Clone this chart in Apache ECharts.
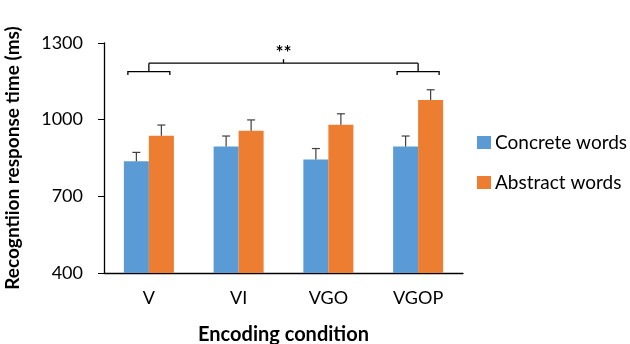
<!DOCTYPE html>
<html>
<head>
<meta charset="utf-8">
<script src="https://cdn.jsdelivr.net/npm/echarts@6/dist/echarts.min.js"></script>
<style>
html, body { margin: 0; padding: 0; background: #fff; }
#chart { width: 630px; height: 344px; }
</style>
</head>
<body>
<div id="chart"></div>
<script>
// data
var categories = ['V', 'VI', 'VGO', 'VGOP'];
var concrete = [837, 895, 844, 895];
var abstractW = [937, 957, 980, 1077];
var concreteErr = [35, 41, 43, 41];
var abstractErr = [42, 42, 43, 40];
// significance bracket: V group vs VGOP group
var bracketGroups = [0, 3];
var bracketTop = 1221;
var bracketMid = 1188;
var bracketTip = 1175;
var starsLabel = '**';

var BAR_W = 25;
var FONT = 'Lato, "Open Sans", sans-serif';

function errData(vals, errs) {
    var out = [];
    for (var i = 0; i < vals.length; i++) {
        out.push([i, vals[i], vals[i] + errs[i]]);
    }
    return out;
}

function errRender(offset) {
    return function(params, api) {
        var lo = api.coord([api.value(0), api.value(1)]);
        var hi = api.coord([api.value(0), api.value(2)]);
        var x = lo[0] + offset;
        var style = { stroke: '#404040', lineWidth: 1.2 };
        return {
            type: 'group',
            children: [
                { type: 'line', shape: { x1: x, y1: lo[1], x2: x, y2: hi[1] }, style: style },
                { type: 'line', shape: { x1: x - 4, y1: hi[1], x2: x + 4, y2: hi[1] }, style: style }
            ]
        };
    };
}

function bracketRender(params, api) {
    var style = { stroke: '#000', lineWidth: 1.3, fill: null };
    var children = [];
    var centers = [];
    for (var k = 0; k < bracketGroups.length; k++) {
        var c = api.coord([bracketGroups[k], bracketMid]);
        var tip = api.coord([bracketGroups[k], bracketTip]);
        var top = api.coord([bracketGroups[k], bracketTop]);
        var half = BAR_W - 4;
        centers.push([c[0], top[1]]);
        children.push({
            type: 'polyline',
            shape: { points: [[c[0] - half, tip[1]], [c[0] - half, c[1]], [c[0] + half, c[1]], [c[0] + half, tip[1]]] },
            style: style
        });
        children.push({
            type: 'line',
            shape: { x1: c[0], y1: c[1], x2: c[0], y2: top[1] },
            style: style
        });
    }
    children.push({
        type: 'line',
        shape: { x1: centers[0][0], y1: centers[0][1], x2: centers[1][0], y2: centers[1][1] },
        style: style
    });
    var midX = (centers[0][0] + centers[1][0]) / 2;
    children.push({
        type: 'line',
        shape: { x1: midX, y1: centers[0][1], x2: midX, y2: centers[0][1] - 4 },
        style: style
    });
    children.push({
        type: 'text',
        style: { x: midX, y: centers[0][1] - 1, text: starsLabel, fill: '#000', font: 'bold 19px ' + FONT, align: 'center', verticalAlign: 'bottom' }
    });
    return { type: 'group', children: children };
}

var chart = echarts.init(document.getElementById('chart'));
var option = {
    animation: false,
    textStyle: { fontFamily: FONT },
    grid: { left: 104, right: 167, top: 43, bottom: 71, containLabel: false, outerBoundsMode: 'none' },
    legend: {
        orient: 'vertical',
        left: 472,
        top: 128,
        itemWidth: 14,
        itemHeight: 13,
        itemGap: 21,
        icon: 'rect',
        data: ['Concrete words', 'Abstract words'],
        textStyle: { fontSize: 19, color: '#000', fontFamily: FONT, padding: [0, 0, 0, -1] }
    },
    xAxis: {
        type: 'category',
        data: categories,
        name: 'Encoding condition',
        nameLocation: 'middle',
        nameGap: 52,
        nameTextStyle: { fontSize: 20, fontWeight: 'bold', color: '#000' },
        axisLine: { lineStyle: { color: '#000', width: 1.3 } },
        axisTick: { show: false },
        axisLabel: { fontSize: 18, color: '#000', margin: 16 }
    },
    yAxis: {
        type: 'value',
        min: 400,
        max: 1300,
        interval: 300,
        name: 'Recogntiion response time (ms)',
        nameLocation: 'middle',
        nameGap: 82,
        nameTextStyle: { fontSize: 19, fontWeight: 'bold', color: '#000' },
        axisLine: { show: true, lineStyle: { color: '#000', width: 1.3 } },
        axisTick: { show: true, length: 6, lineStyle: { color: '#000' } },
        splitLine: { show: false },
        axisLabel: { fontSize: 18, color: '#000', margin: 21, formatter: function(v) { return String(v); } }
    },
    series: [{
        name: 'Concrete words',
        type: 'bar',
        barWidth: BAR_W,
        barGap: '0%',
        itemStyle: { color: '#5B9BD5' },
        data: concrete
    }, {
        name: 'Abstract words',
        type: 'bar',
        barWidth: BAR_W,
        barGap: '0%',
        itemStyle: { color: '#ED7D31' },
        data: abstractW
    }, {
        type: 'custom',
        renderItem: errRender(-BAR_W / 2),
        data: errData(concrete, concreteErr),
        z: 5
    }, {
        type: 'custom',
        renderItem: errRender(BAR_W / 2),
        data: errData(abstractW, abstractErr),
        z: 5
    }, {
        type: 'custom',
        renderItem: bracketRender,
        data: [[0, bracketTop]],
        z: 5
    }]
};
chart.setOption(option);
</script>
</body>
</html>
